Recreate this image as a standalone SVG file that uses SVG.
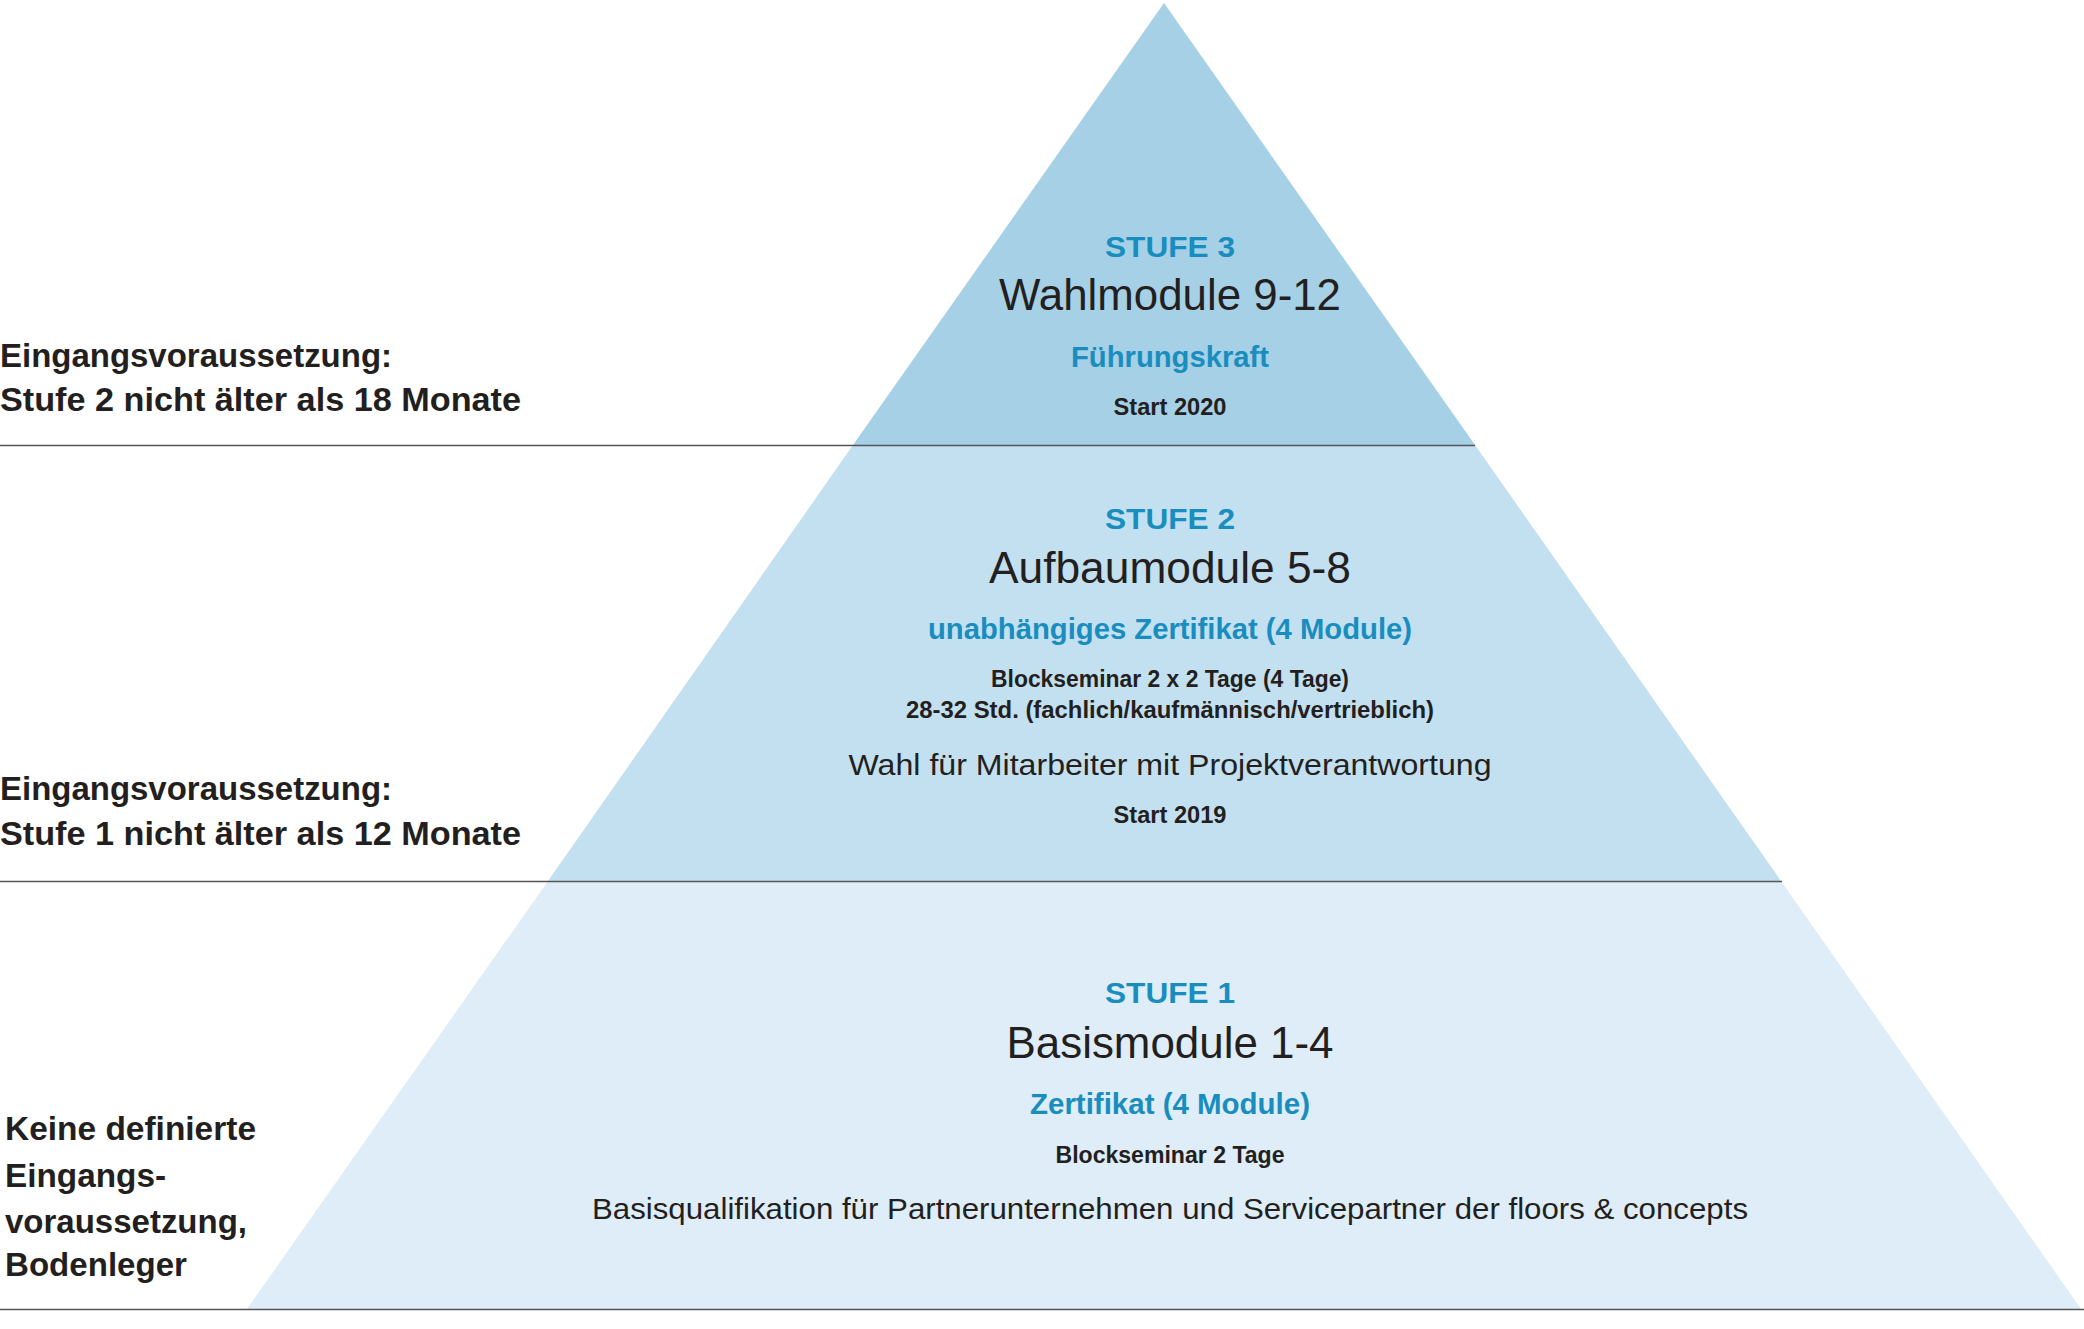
<svg xmlns="http://www.w3.org/2000/svg" width="2084" height="1329" viewBox="0 0 2084 1329">
<style>
text{font-family:"Liberation Sans","Open Sans",sans-serif;fill:#231f20}
.c{text-anchor:middle}
.st{font-weight:bold;fill:#1a8dbf;font-size:30px}
.h{font-size:44px}
.b{font-weight:bold;fill:#1a8dbf;font-size:30px}
.s{font-weight:bold;font-size:23px}
.n{font-size:30px}
.l{font-weight:bold;font-size:34px}
line{stroke:#555;stroke-width:1.5}
</style>
<rect width="2084" height="1329" fill="#fff"/>
<g id="stufe1">
<polygon points="548,881 1781,881 2081,1309 247,1309" fill="#deedf7"/>
<text class="c st" x="1170" y="1003" textLength="130" lengthAdjust="spacingAndGlyphs">STUFE 1</text>
<text class="c h" x="1170" y="1058" textLength="327" lengthAdjust="spacingAndGlyphs">Basismodule 1-4</text>
<text class="c b" x="1170" y="1114" textLength="280" lengthAdjust="spacingAndGlyphs">Zertifikat (4 Module)</text>
<text class="c s" x="1170" y="1163" textLength="229" lengthAdjust="spacingAndGlyphs">Blockseminar 2 Tage</text>
<text class="c n" x="1170" y="1219" textLength="1156" lengthAdjust="spacingAndGlyphs">Basisqualifikation für Partnerunternehmen und Servicepartner der floors &amp; concepts</text>
</g>
<g id="stufe2">
<polygon points="853,445 1475,445 1781,881 548,881" fill="#c3e0f0"/>
<text class="c st" x="1170" y="529" textLength="130" lengthAdjust="spacingAndGlyphs">STUFE 2</text>
<text class="c h" x="1170" y="583" textLength="362" lengthAdjust="spacingAndGlyphs">Aufbaumodule 5-8</text>
<text class="c b" x="1170" y="639" textLength="484" lengthAdjust="spacingAndGlyphs">unabhängiges Zertifikat (4 Module)</text>
<text class="c s" x="1170" y="687" textLength="358" lengthAdjust="spacingAndGlyphs">Blockseminar 2 x 2 Tage (4 Tage)</text>
<text class="c s" x="1170" y="718" textLength="528" lengthAdjust="spacingAndGlyphs">28-32 Std. (fachlich/kaufmännisch/vertrieblich)</text>
<text class="c n" x="1170" y="775" textLength="643" lengthAdjust="spacingAndGlyphs">Wahl für Mitarbeiter mit Projektverantwortung</text>
<text class="c s" x="1170" y="823" textLength="113" lengthAdjust="spacingAndGlyphs">Start 2019</text>
</g>
<g id="stufe3">
<polygon points="1164,3 1475,445 853,445" fill="#a5d0e5"/>
<text class="c st" x="1170" y="257" textLength="130" lengthAdjust="spacingAndGlyphs">STUFE 3</text>
<text class="c h" x="1170" y="310" textLength="342" lengthAdjust="spacingAndGlyphs">Wahlmodule 9-12</text>
<text class="c b" x="1170" y="367" textLength="198" lengthAdjust="spacingAndGlyphs">Führungskraft</text>
<text class="c s" x="1170" y="415" textLength="113" lengthAdjust="spacingAndGlyphs">Start 2020</text>
</g>
<g id="connectors">
<line x1="0" y1="445.5" x2="1475" y2="445.5"/>
<line x1="0" y1="881.5" x2="1782" y2="881.5"/>
<line x1="0" y1="1309.5" x2="2084" y2="1309.5"/>
</g>
<g id="labels">
<text class="l" x="0" y="367" textLength="392" lengthAdjust="spacingAndGlyphs">Eingangsvoraussetzung:</text>
<text class="l" x="0" y="411" textLength="521" lengthAdjust="spacingAndGlyphs">Stufe 2 nicht älter als 18 Monate</text>
<text class="l" x="0" y="800" textLength="392" lengthAdjust="spacingAndGlyphs">Eingangsvoraussetzung:</text>
<text class="l" x="0" y="845" textLength="521" lengthAdjust="spacingAndGlyphs">Stufe 1 nicht älter als 12 Monate</text>
<text class="l" x="5" y="1140" textLength="251" lengthAdjust="spacingAndGlyphs">Keine definierte</text>
<text class="l" x="5" y="1187" textLength="161" lengthAdjust="spacingAndGlyphs">Eingangs-</text>
<text class="l" x="5" y="1233" textLength="242" lengthAdjust="spacingAndGlyphs">voraussetzung,</text>
<text class="l" x="5" y="1276" textLength="182" lengthAdjust="spacingAndGlyphs">Bodenleger</text>
</g>
</svg>
